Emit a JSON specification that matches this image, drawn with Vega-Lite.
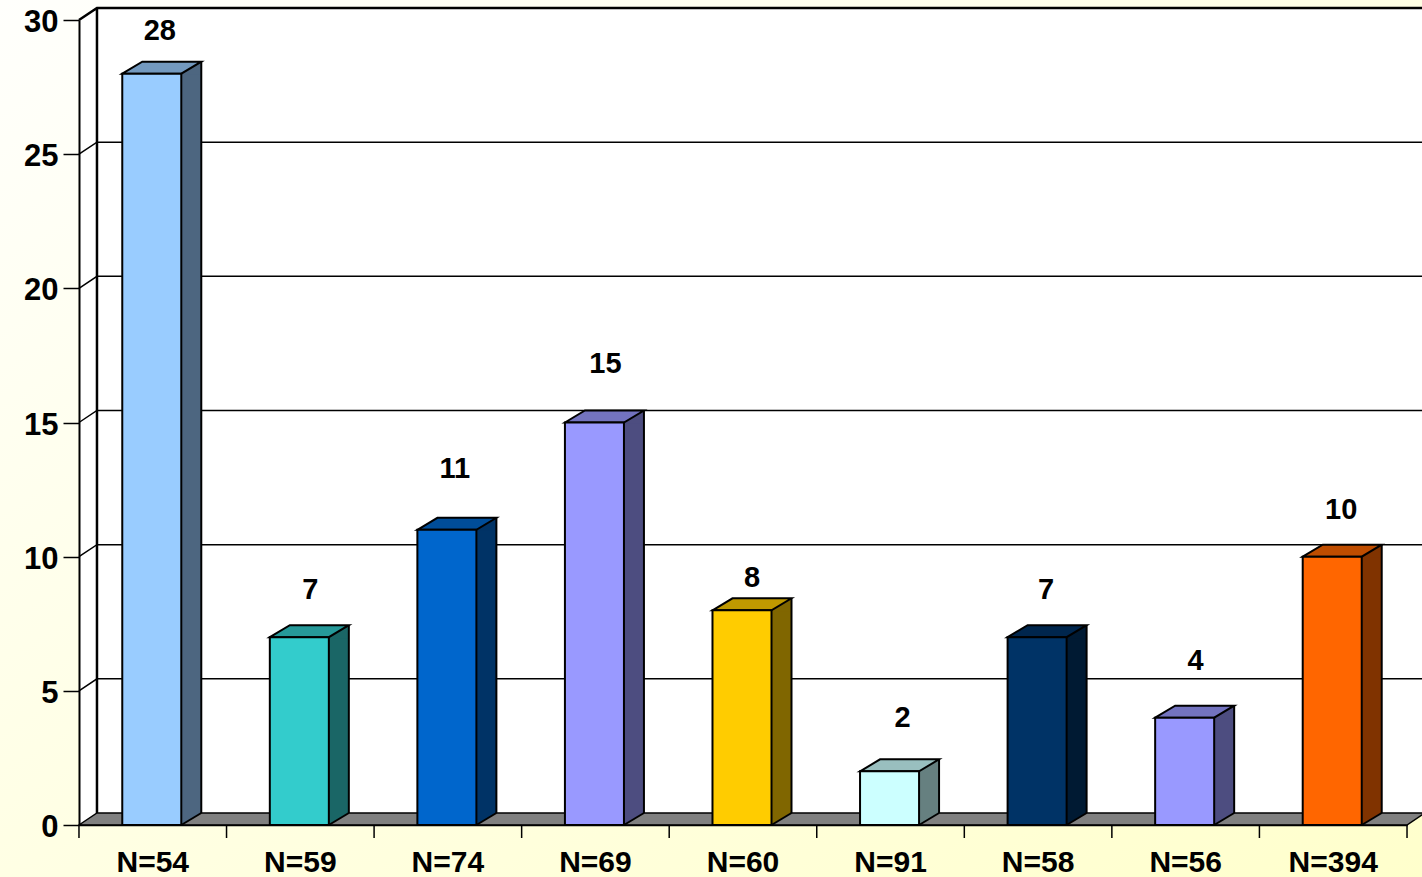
{
"$schema":"https://vega.github.io/schema/vega-lite/v6.json",
"width":1328,"height":805,
"autosize":{"type":"none"},
"padding":{"left":79,"top":20,"right":15,"bottom":52},
"background":"#FFFFE6",
"config":{"view":{"stroke":null},
"axisX":{"ticks":false,"labelAngle":0,"domainColor":"#000000","domainWidth":1.5,"labelFont":"Liberation Sans","labelFontWeight":"bold","labelFontSize":30,"labelColor":"#000000","tickSize":0,"labelPadding":37,"labelBaseline":"middle","labelOverlap":false,"grid":false},
"axisY":{"tickSize":16,"tickWidth":1.5,"tickColor":"#000000","domainColor":"#000000","domainWidth":2,"labelFont":"Liberation Sans","labelFontWeight":"bold","labelFontSize":31,"labelColor":"#000000","labelPadding":5,"labelOffset":2.5,"labelOverlap":false,"grid":false}},
"datasets":{
"samples":[
{"sample":"N=54","count":28},{"sample":"N=59","count":7},{"sample":"N=74","count":11},
{"sample":"N=69","count":15},{"sample":"N=60","count":8},{"sample":"N=91","count":2},
{"sample":"N=58","count":7},{"sample":"N=56","count":4},{"sample":"N=394","count":10}],
"grid":[{"tick":5},{"tick":10},{"tick":15},{"tick":20},{"tick":25}]
},
"data":{"name":"samples"},
"encoding":{
"x":{"field":"sample","type":"nominal","sort":null,"axis":{"title":null,"zindex":1},"scale":{"type":"band","domain":["N=54","N=59","N=74","N=69","N=60","N=91","N=58","N=56","N=394"],"paddingInner":0.6,"paddingOuter":0.3}},
"y":{"field":"count","type":"quantitative","stack":null,"axis":{"title":null,"zindex":1,"values":[0,5,10,15,20,25,30]},"scale":{"domain":[0,30],"nice":false}}
},
"resolve":{"scale":{"fill":"independent"}},
"layer":[
{"transform":[{"filter":"datum.sample==='N=54'"}],
 "mark":{"type":"point","shape":"M-153,-825H1270V52H-153Z","size":4,"filled":true,"opacity":1,"fill":{"gradient":"linear","x1":0,"y1":0,"x2":1,"y2":1,"stops":[{"offset":0,"color":"#FFFFFC"},{"offset":0.5,"color":"#FFFFE4"},{"offset":1,"color":"#FFFFCC"}]}},
 "encoding":{"y":{"datum":0,"type":"quantitative","axis":{"title":null,"zindex":1,"values":[0,5,10,15,20,25,30]},"scale":{"domain":[0,30],"nice":false}}}},
{"transform":[{"filter":"datum.sample==='N=54'"}],
 "mark":{"type":"point","shape":"M-73.8,0V-805L-55.8,-817H1272V-12H-55.8Z","size":4,"filled":true,"opacity":1,"fill":"#FFFFFF"},
 "encoding":{"y":{"datum":0,"type":"quantitative","axis":{"title":null,"zindex":1,"values":[0,5,10,15,20,25,30]},"scale":{"domain":[0,30],"nice":false}}}},
{"transform":[{"filter":"datum.sample==='N=54'"}],
 "mark":{"type":"point","shape":"M-73.8,0L-55.8,-12H1272L1254.2,0Z","size":4,"filled":true,"opacity":1,"fill":"#808080","stroke":"#000000","strokeWidth":1.5},
 "encoding":{"y":{"datum":0,"type":"quantitative","axis":{"title":null,"zindex":1,"values":[0,5,10,15,20,25,30]},"scale":{"domain":[0,30],"nice":false}}}},
{"transform":[{"filter":"datum.sample==='N=54'"}],
 "mark":{"type":"point","shape":"M-73.8,-805L-55.8,-817H1272M-55.8,-817V-12","size":4,"filled":false,"opacity":1,"stroke":"#000000","strokeWidth":2.5},
 "encoding":{"y":{"datum":0,"type":"quantitative","axis":{"title":null,"zindex":1,"values":[0,5,10,15,20,25,30]},"scale":{"domain":[0,30],"nice":false}}}},
{"data":{"name":"grid"},
 "mark":{"type":"point","shape":"M-73.8,0L-55.8,-12H1272","size":4,"filled":false,"opacity":1,"stroke":"#000000","strokeWidth":1.5},
 "encoding":{"x":{"datum":"N=54","type":"nominal","axis":{"title":null,"zindex":1},"scale":{"type":"band","domain":["N=54","N=59","N=74","N=69","N=60","N=91","N=58","N=56","N=394"],"paddingInner":0.6,"paddingOuter":0.3}},
 "y":{"field":"tick","type":"quantitative","axis":{"title":null,"zindex":1,"values":[0,5,10,15,20,25,30]},"scale":{"domain":[0,30],"nice":false}}}},
{"mark":{"type":"point","shape":"M-73.8,0V13","size":4,"filled":false,"opacity":1,"stroke":"#000000","strokeWidth":1.5},
 "encoding":{"y":{"datum":0,"type":"quantitative","axis":{"title":null,"zindex":1,"values":[0,5,10,15,20,25,30]},"scale":{"domain":[0,30],"nice":false}}}},
{"transform":[{"filter":"datum.sample==='N=394'"}],
 "mark":{"type":"point","shape":"M73.8,0V13","size":4,"filled":false,"opacity":1,"stroke":"#000000","strokeWidth":1.5},
 "encoding":{"y":{"datum":0,"type":"quantitative","axis":{"title":null,"zindex":1,"values":[0,5,10,15,20,25,30]},"scale":{"domain":[0,30],"nice":false}}}},
{"mark":{"type":"bar","width":20,"xOffset":38.5,"y2Offset":-12},
 "encoding":{"y2":{"datum":0},"fill":{"field":"sample","type":"nominal","legend":null,"sort":null,"scale":{"domain":["N=54","N=59","N=74","N=69","N=60","N=91","N=58","N=56","N=394"],"range":["#4D6680","#1A6666","#003366","#4D4D80","#806600","#668080","#001A33","#4D4D80","#803300"]}}}},
{"mark":{"type":"point","shape":"M28.5,0L48.5,-12V1H28.5Z","size":4,"filled":true,"opacity":1},
 "encoding":{"fill":{"field":"sample","type":"nominal","legend":null,"sort":null,"scale":{"domain":["N=54","N=59","N=74","N=69","N=60","N=91","N=58","N=56","N=394"],"range":["#4D6680","#1A6666","#003366","#4D4D80","#806600","#668080","#001A33","#4D4D80","#803300"]}}}},
{"mark":{"type":"point","shape":"M28.5,0V-13H48.5V-12Z","size":4,"filled":true,"opacity":1},
 "encoding":{"y":{"datum":0,"type":"quantitative","axis":{"title":null,"zindex":1,"values":[0,5,10,15,20,25,30]},"scale":{"domain":[0,30],"nice":false}},"fill":{"field":"sample","type":"nominal","legend":null,"sort":null,"scale":{"domain":["N=54","N=59","N=74","N=69","N=60","N=91","N=58","N=56","N=394"],"range":["#4D6680","#1A6666","#003366","#4D4D80","#806600","#668080","#001A33","#4D4D80","#803300"]}}}},
{"mark":{"type":"bar","width":2,"xOffset":48.5,"yOffset":-12,"y2Offset":-12,"fill":"#000000"},
 "encoding":{"y2":{"datum":0}}},
{"mark":{"type":"point","shape":"M28.5,0L48.5,-12","size":4,"filled":false,"opacity":1,"stroke":"#000000","strokeWidth":2},
 "encoding":{"y":{"datum":0,"type":"quantitative","axis":{"title":null,"zindex":1,"values":[0,5,10,15,20,25,30]},"scale":{"domain":[0,30],"nice":false}}}},
{"mark":{"type":"point","shape":"M-30.5,0L-10.5,-12H48.5L28.5,0Z","size":4,"filled":true,"opacity":1,"stroke":"#000000","strokeWidth":2},
 "encoding":{"fill":{"field":"sample","type":"nominal","legend":null,"sort":null,"scale":{"domain":["N=54","N=59","N=74","N=69","N=60","N=91","N=58","N=56","N=394"],"range":["#7399BF","#269999","#004D99","#7373BF","#BF9900","#99BFBF","#00264D","#7373BF","#BF4D00"]}}}},
{"mark":{"type":"bar","xOffset":-1,"stroke":"#000000","strokeWidth":2},
 "encoding":{
 "y2":{"datum":0},
 "fill":{"field":"sample","type":"nominal","legend":null,"sort":null,"scale":{"domain":["N=54","N=59","N=74","N=69","N=60","N=91","N=58","N=56","N=394"],"range":["#99CCFF","#33CCCC","#0066CC","#9999FF","#FFCC00","#CCFFFF","#003366","#9999FF","#FF6600"]}}}},
{"mark":{"type":"text","font":"Liberation Sans","fontWeight":"bold","fontSize":29,"color":"#000000","baseline":"middle",
 "dx":{"expr":"({'N=54':7,'N=59':10,'N=74':7,'N=69':10,'N=60':9,'N=91':12,'N=58':8,'N=56':10,'N=394':8})[datum.sample]"},
 "dy":{"expr":"({'N=54':-43,'N=59':-47,'N=74':-61,'N=69':-59,'N=60':-32,'N=91':-53,'N=58':-47,'N=56':-57,'N=394':-47})[datum.sample]"}},
 "encoding":{"text":{"field":"count","type":"quantitative"}}}
]
}
